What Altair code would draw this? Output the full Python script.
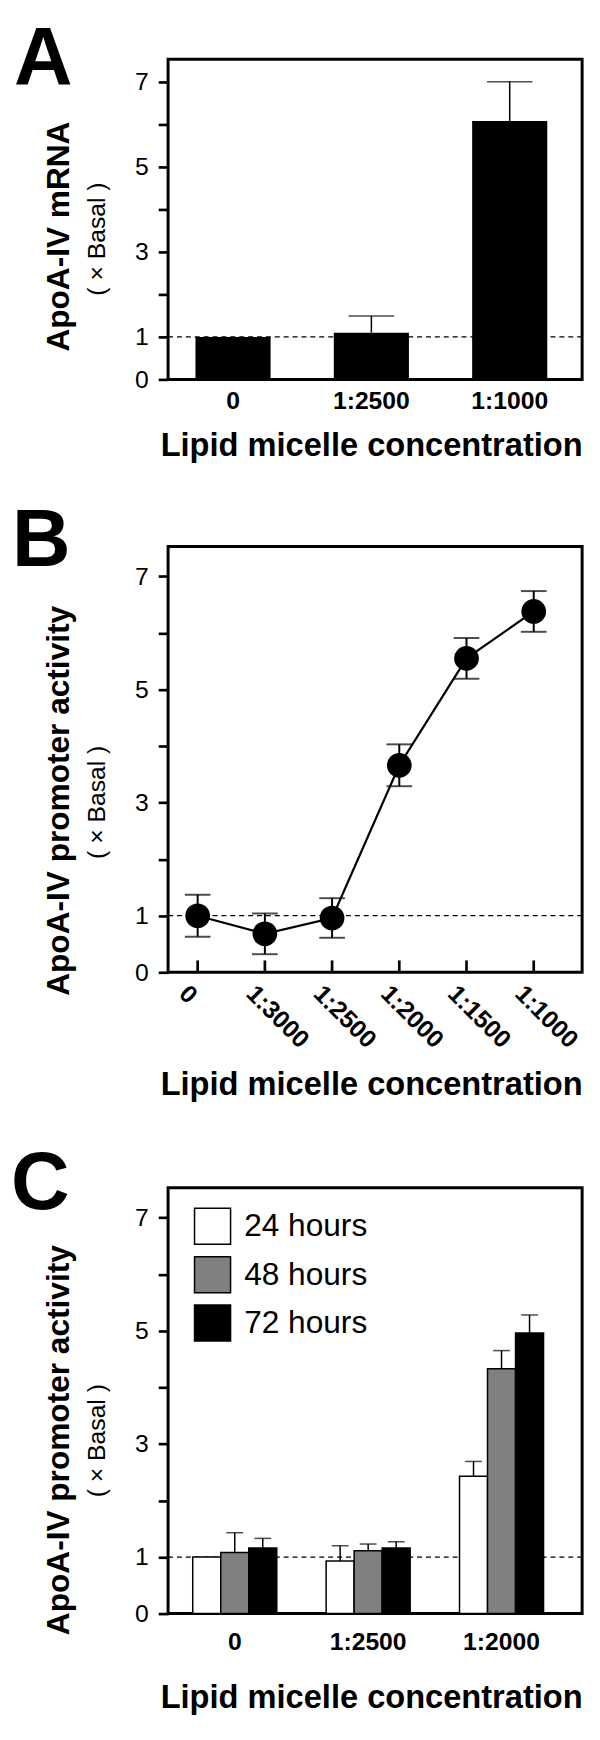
import json
import altair as alt
import pandas as pd

FONT = "Liberation Sans"

# ---------------- data ----------------
Y_TICKS = [0, 1, 2, 3, 4, 5, 6, 7]
Y_MAX = 7.53

X_TITLE = "Lipid micelle concentration"
SUB_TITLE = "( \u00d7 Basal )"

# Panel A
a_title = "ApoA-IV mRNA"
a_cats = ["0", "1:2500", "1:1000"]
a_vals = [1.0, 1.10, 6.08]
a_errs = [0.0, 0.39, 0.92]

# Panel B
b_title = "ApoA-IV promoter activity"
b_cats = ["0", "1:3000", "1:2500", "1:2000", "1:1500", "1:1000"]
b_vals = [1.0, 0.68, 0.96, 3.66, 5.55, 6.38]
b_errs = [0.37, 0.36, 0.35, 0.37, 0.36, 0.36]

# Panel C
c_title = "ApoA-IV promoter activity"
c_cats = ["0", "1:2500", "1:2000"]
c_series = ["24 hours", "48 hours", "72 hours"]
c_colors = ["white", "#808080", "black"]
c_vals_24 = [1.0, 0.93, 2.43]
c_vals_48 = [1.08, 1.11, 4.33]
c_vals_72 = [1.16, 1.16, 4.96]
c_errs_24 = [0.0, 0.27, 0.26]
c_errs_48 = [0.35, 0.12, 0.32]
c_errs_72 = [0.17, 0.11, 0.32]

BASAL = [1]

# ---------------- layout constants ----------------
W = 419
H_A, H_B, H_C = 324, 431, 431
TOP = 90


def y_axis(title, ty):
    return alt.Axis(
        values=Y_TICKS,
        labelExpr="(datum.value == 2 || datum.value == 4 || datum.value == 6) ? '' : datum.label",
        labelFontSize=25, labelPadding=10, tickSize=10, tickWidth=2.7,
        title=title, titleFontSize=32, titleFontWeight="bold", titleAngle=270,
        titleX=-101, titleY=ty, titleAlign="center", titleBaseline="alphabetic",
        grid=False, domain=False,
    )


def x_band_axis(label_pad, title_y):
    return alt.Axis(
        labelFontSize=25, labelFontWeight="bold", labelAngle=0, labelPadding=label_pad,
        ticks=False, domain=False, grid=False,
        title=X_TITLE, titleFontSize=33, titleFontWeight="bold",
        titleX=W / 2 - 4, titleY=title_y, titleAlign="center", titleBaseline="alphabetic",
    )


def spacer(h, top, bottom):
    d = pd.DataFrame({"s": [0]})
    t = alt.Chart(d).mark_rule(color="white", strokeOpacity=0, strokeWidth=1).encode(
        x=alt.value(-160), x2=alt.value(W + 8), y=alt.value(-top))
    b = alt.Chart(d).mark_rule(color="white", strokeOpacity=0, strokeWidth=1).encode(
        x=alt.value(-160), x2=alt.value(W + 8), y=alt.value(h + bottom))
    return [t, b]


def letter(txt, dx, base):
    return alt.Chart(pd.DataFrame({"t": [txt]})).mark_text(
        font=FONT, fontSize=82, fontWeight="bold", align="left", baseline="alphabetic",
        color="black").encode(text="t:N", x=alt.value(dx), y=alt.value(base))


def subtitle(cy):
    return alt.Chart(pd.DataFrame({"t": [SUB_TITLE]})).mark_text(
        font=FONT, fontSize=25, angle=270, align="center", baseline="alphabetic",
        color="black").encode(text="t:N", x=alt.value(-64), y=alt.value(cy))


def basal_line(y_enc_axis):
    return alt.Chart(pd.DataFrame({"b": BASAL})).mark_rule(
        color="black", strokeDash=[5, 4], strokeWidth=1.3).encode(
        y=alt.Y("b:Q", scale=alt.Scale(domain=[0, Y_MAX], nice=False), axis=y_enc_axis))


# ---------------- Panel A ----------------
a_df = pd.DataFrame({"conc": a_cats, "value": a_vals, "err": a_errs})
a_df["hi"] = a_df["value"] + a_df["err"]
ya_axis = y_axis(a_title, 179)
ya_scale = alt.Scale(domain=[0, Y_MAX], nice=False)
xa = alt.X("conc:N", sort=a_cats,
           scale=alt.Scale(paddingInner=0.457, paddingOuter=0.225, align=0.44),
           axis=x_band_axis(9, 77))
a_base = alt.Chart(a_df)
a_layers = [
    basal_line(ya_axis),
    a_base.mark_bar(color="black").encode(
        x=xa, y=alt.Y("value:Q", scale=ya_scale, axis=ya_axis)),
    a_base.transform_filter("datum.err > 0").mark_rule(color="black", strokeWidth=1.5).encode(
        x=xa, y=alt.Y("value:Q", scale=ya_scale, axis=ya_axis), y2="hi:Q"),
    a_base.transform_filter("datum.err > 0").mark_tick(
        orient="horizontal", color="black", size=46, thickness=1.5).encode(
        x=xa, y=alt.Y("hi:Q", scale=ya_scale, axis=ya_axis)),
    letter("A", -156, 25),
    subtitle(182),
] + spacer(H_A, TOP, 100)
chart_a = alt.layer(*a_layers).properties(width=W, height=H_A)

# ---------------- Panel B ----------------
b_df = pd.DataFrame({"idx": list(range(len(b_cats))), "conc": b_cats,
                     "value": b_vals, "err": b_errs})
b_df["lo"] = b_df["value"] - b_df["err"]
b_df["hi"] = b_df["value"] + b_df["err"]
yb_axis = y_axis(b_title, 257)
yb_scale = alt.Scale(domain=[0, Y_MAX], nice=False)
xb_axis = alt.Axis(
    values=list(range(len(b_cats))),
    labelExpr=json.dumps(b_cats) + "[datum.value]",
    labelFontSize=25, labelFontWeight="bold", labelAngle=45, labelAlign="left",
    labelBaseline="middle", labelPadding=17, labelOffset=-15, labelFlush=False,
    labelOverlap=False, labelBound=False,
    ticks=False, domain=False, grid=False,
    title=X_TITLE, titleFontSize=33, titleFontWeight="bold",
    titleX=W / 2 - 4, titleY=124, titleAlign="center", titleBaseline="alphabetic",
)
xb = alt.X("idx:Q", scale=alt.Scale(domain=[-0.44, 5.72], nice=False, zero=False), axis=xb_axis)
b_base = alt.Chart(b_df)
b_layers = [
    basal_line(yb_axis),
    b_base.mark_rule(color="black", strokeWidth=2.7).encode(
        x=xb, y=alt.value(H_B), y2=alt.value(H_B - 12)),
    b_base.mark_line(color="black", strokeWidth=2.2).encode(
        x=xb, y=alt.Y("value:Q", scale=yb_scale, axis=yb_axis)),
    b_base.mark_rule(color="black", strokeWidth=2).encode(
        x=xb, y=alt.Y("lo:Q", scale=yb_scale, axis=yb_axis), y2="hi:Q"),
    b_base.mark_tick(orient="horizontal", color="black", size=26, thickness=2).encode(
        x=xb, y=alt.Y("hi:Q", scale=yb_scale, axis=yb_axis)),
    b_base.mark_tick(orient="horizontal", color="black", size=26, thickness=2).encode(
        x=xb, y=alt.Y("lo:Q", scale=yb_scale, axis=yb_axis)),
    b_base.mark_circle(color="black", size=625, opacity=1).encode(
        x=xb, y=alt.Y("value:Q", scale=yb_scale, axis=yb_axis)),
    letter("B", -158, 20),
    subtitle(259),
] + spacer(H_B, TOP, 149)
chart_b = alt.layer(*b_layers).properties(width=W, height=H_B)

# ---------------- Panel C ----------------
rows = []
for s, vals, errs in zip(c_series, [c_vals_24, c_vals_48, c_vals_72],
                         [c_errs_24, c_errs_48, c_errs_72]):
    for c, v, e in zip(c_cats, vals, errs):
        rows.append({"conc": c, "hours": s, "value": v, "err": e, "hi": v + e})
c_df = pd.DataFrame(rows)
yc_axis = y_axis(c_title, 255)
yc_scale = alt.Scale(domain=[0, Y_MAX], nice=False)
xc = alt.X("conc:N", sort=c_cats,
           scale=alt.Scale(paddingInner=0.37, paddingOuter=0.237, align=0.39),
           axis=x_band_axis(16, 95))
xoff = alt.XOffset("hours:N", sort=c_series, scale=alt.Scale(paddingInner=0, paddingOuter=0))
c_base = alt.Chart(c_df)
c_layers = [
    basal_line(yc_axis),
    c_base.mark_bar(stroke="black", strokeWidth=1.5).encode(
        x=xc, xOffset=xoff, y=alt.Y("value:Q", scale=yc_scale, axis=yc_axis),
        fill=alt.Fill("hours:N", sort=c_series,
                      scale=alt.Scale(domain=c_series, range=c_colors),
                      legend=alt.Legend(
                          title=None, orient="none", legendX=26, legendY=20,
                          symbolType="square", symbolSize=1330,
                          symbolStrokeColor="black", symbolStrokeWidth=1.5,
                          symbolOpacity=1, labelFont=FONT, labelFontSize=32,
                          labelColor="black", labelOffset=13, rowPadding=5,
                          padding=0))),
    c_base.transform_filter("datum.err > 0").mark_rule(color="black", strokeWidth=1.5).encode(
        x=xc, xOffset=xoff, y=alt.Y("value:Q", scale=yc_scale, axis=yc_axis), y2="hi:Q"),
    c_base.transform_filter("datum.err > 0").mark_tick(
        orient="horizontal", color="black", size=17, thickness=1.5).encode(
        x=xc, xOffset=xoff, y=alt.Y("hi:Q", scale=yc_scale, axis=yc_axis)),
    letter("C", -159, 22),
    subtitle(256),
] + spacer(H_C, TOP, 110)
chart_c = alt.layer(*c_layers).properties(width=W, height=H_C)

chart = alt.vconcat(chart_a, chart_b, chart_c, spacing=-25, bounds="full").resolve_legend(
    fill="independent"
).properties(
    padding={"top": -50.5, "left": 0, "right": 0, "bottom": 0}
).configure(font=FONT).configure_view(
    stroke="black", strokeWidth=3
).configure_axis(
    labelFont=FONT, titleFont=FONT, labelColor="black", titleColor="black",
    tickColor="black", grid=False
)

chart.save("out.html", embed_options={"renderer": "svg", "actions": False})
